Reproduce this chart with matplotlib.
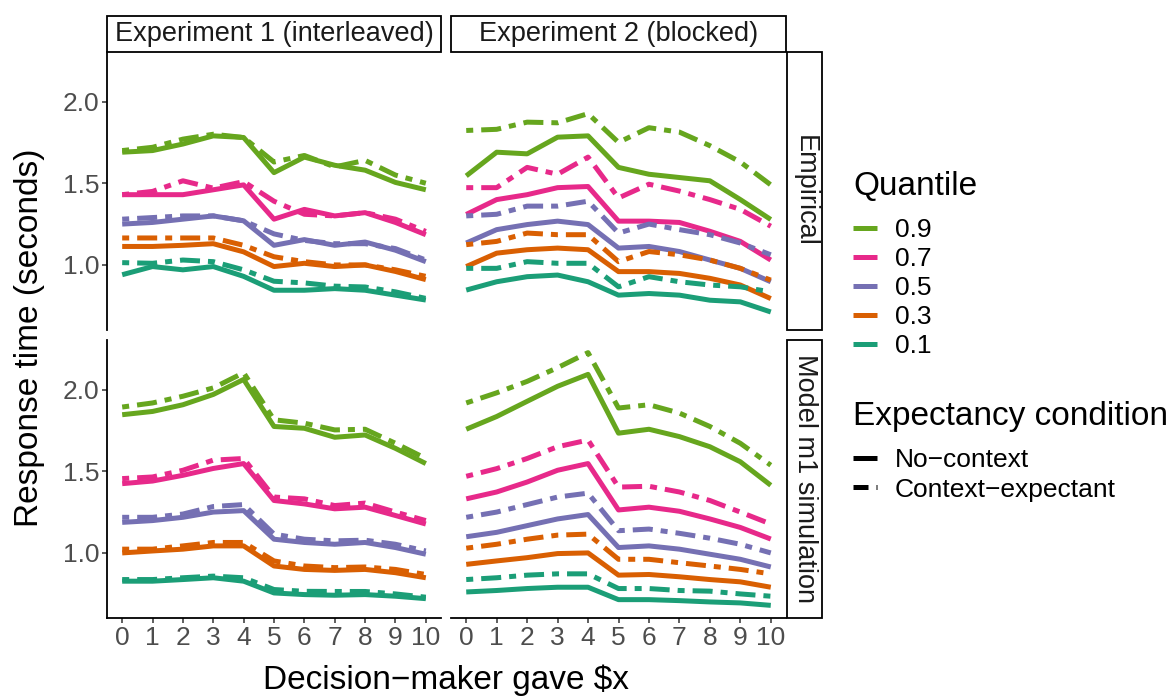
import numpy as np
import matplotlib
matplotlib.use("Agg")
import matplotlib.pyplot as plt
from matplotlib.lines import Line2D
from matplotlib.patches import Rectangle

plt.rcParams["font.family"] = ["Liberation Sans", "DejaVu Sans"]

# ---- data -------------------------------------------------------------
amounts = list(range(11))
quantiles = ["0.9", "0.7", "0.5", "0.3", "0.1"]
quantile_colors = ["#66A61E", "#E7298A", "#7570B3", "#D95F02", "#1B9E77"]
experiments = ["Experiment 1 (interleaved)", "Experiment 2 (blocked)"]
sources = ["Empirical", "Model m1 simulation"]
conditions = ["No\u2212context", "Context\u2212expectant"]

# rows follow `quantiles` order (0.9 ... 0.1)
emp_exp1_nocontext = [
    [1.69, 1.70, 1.74, 1.79, 1.78, 1.565, 1.66, 1.61, 1.58, 1.505, 1.46],
    [1.43, 1.43, 1.43, 1.46, 1.49, 1.28, 1.34, 1.30, 1.32, 1.26, 1.185],
    [1.25, 1.26, 1.28, 1.30, 1.27, 1.12, 1.155, 1.12, 1.14, 1.09, 1.02],
    [1.113, 1.113, 1.12, 1.13, 1.08, 0.99, 1.01, 0.99, 1.00, 0.96, 0.91],
    [0.94, 0.99, 0.97, 0.99, 0.93, 0.845, 0.845, 0.855, 0.845, 0.815, 0.785],
]
emp_exp1_context = [
    [1.70, 1.72, 1.77, 1.80, 1.78, 1.63, 1.67, 1.60, 1.64, 1.55, 1.50],
    [1.43, 1.45, 1.515, 1.47, 1.51, 1.39, 1.31, 1.30, 1.32, 1.28, 1.205],
    [1.28, 1.29, 1.30, 1.30, 1.27, 1.19, 1.15, 1.13, 1.13, 1.10, 1.03],
    [1.165, 1.165, 1.165, 1.165, 1.12, 1.05, 1.02, 1.00, 1.00, 0.97, 0.93],
    [1.014, 1.01, 1.03, 1.02, 0.97, 0.90, 0.89, 0.87, 0.865, 0.835, 0.795],
]
emp_exp2_nocontext = [
    [1.545, 1.69, 1.68, 1.782, 1.79, 1.597, 1.555, 1.535, 1.515, 1.40, 1.278],
    [1.309, 1.40, 1.43, 1.473, 1.48, 1.268, 1.268, 1.26, 1.206, 1.144, 1.03],
    [1.134, 1.216, 1.247, 1.268, 1.247, 1.103, 1.113, 1.082, 1.03, 0.979, 0.897],
    [0.99, 1.072, 1.093, 1.103, 1.093, 0.959, 0.959, 0.948, 0.918, 0.877, 0.794],
    [0.846, 0.897, 0.928, 0.938, 0.897, 0.815, 0.825, 0.815, 0.784, 0.774, 0.712],
]
emp_exp2_context = [
    [1.823, 1.83, 1.874, 1.87, 1.926, 1.75, 1.84, 1.813, 1.73, 1.63, 1.49],
    [1.473, 1.473, 1.597, 1.555, 1.66, 1.41, 1.494, 1.452, 1.40, 1.34, 1.237],
    [1.30, 1.31, 1.36, 1.36, 1.39, 1.195, 1.25, 1.216, 1.185, 1.134, 1.062],
    [1.124, 1.144, 1.195, 1.185, 1.185, 1.02, 1.082, 1.062, 1.03, 0.979, 0.907],
    [0.979, 0.979, 1.02, 1.01, 1.01, 0.866, 0.928, 0.897, 0.877, 0.866, 0.835],
]
sim_exp1_nocontext = [
    [1.846, 1.866, 1.907, 1.97, 2.062, 1.774, 1.763, 1.708, 1.722, 1.64, 1.547],
    [1.424, 1.44, 1.475, 1.517, 1.547, 1.321, 1.30, 1.27, 1.28, 1.229, 1.177],
    [1.187, 1.198, 1.218, 1.25, 1.259, 1.084, 1.064, 1.053, 1.064, 1.033, 0.992],
    [1.00, 1.012, 1.023, 1.043, 1.043, 0.92, 0.899, 0.893, 0.899, 0.879, 0.848],
    [0.827, 0.827, 0.837, 0.848, 0.827, 0.755, 0.745, 0.741, 0.745, 0.735, 0.72],
]
sim_exp1_context = [
    [1.893, 1.918, 1.959, 2.01, 2.103, 1.815, 1.794, 1.753, 1.757, 1.671, 1.578],
    [1.455, 1.465, 1.506, 1.568, 1.578, 1.342, 1.331, 1.29, 1.305, 1.25, 1.198],
    [1.218, 1.218, 1.238, 1.284, 1.296, 1.115, 1.084, 1.074, 1.078, 1.053, 1.012],
    [1.023, 1.023, 1.043, 1.064, 1.064, 0.951, 0.92, 0.91, 0.914, 0.899, 0.868],
    [0.837, 0.837, 0.848, 0.858, 0.848, 0.776, 0.765, 0.764, 0.764, 0.749, 0.729],
]
sim_exp2_nocontext = [
    [1.757, 1.835, 1.928, 2.02, 2.093, 1.733, 1.757, 1.712, 1.65, 1.558, 1.414],
    [1.331, 1.373, 1.434, 1.506, 1.547, 1.263, 1.28, 1.255, 1.208, 1.156, 1.085],
    [1.099, 1.126, 1.167, 1.208, 1.235, 1.033, 1.043, 1.023, 0.992, 0.961, 0.914],
    [0.93, 0.951, 0.971, 0.996, 1.00, 0.864, 0.868, 0.854, 0.837, 0.823, 0.79],
    [0.761, 0.77, 0.782, 0.79, 0.79, 0.714, 0.714, 0.708, 0.70, 0.694, 0.679],
]
sim_exp2_context = [
    [1.918, 1.98, 2.05, 2.134, 2.226, 1.887, 1.907, 1.856, 1.774, 1.671, 1.537],
    [1.469, 1.516, 1.578, 1.65, 1.691, 1.403, 1.408, 1.373, 1.321, 1.25, 1.177],
    [1.218, 1.25, 1.296, 1.342, 1.366, 1.136, 1.146, 1.12, 1.09, 1.053, 1.00],
    [1.029, 1.053, 1.084, 1.109, 1.115, 0.961, 0.961, 0.94, 0.92, 0.899, 0.872],
    [0.837, 0.848, 0.864, 0.872, 0.872, 0.782, 0.782, 0.77, 0.766, 0.749, 0.735],
]

panels = {
    (0, 0): (emp_exp1_nocontext, emp_exp1_context),
    (0, 1): (emp_exp2_nocontext, emp_exp2_context),
    (1, 0): (sim_exp1_nocontext, sim_exp1_context),
    (1, 1): (sim_exp2_nocontext, sim_exp2_context),
}

# ---- layout (pixels) --------------------------------------------------
W, H = 1172, 700
fig = plt.figure(figsize=(W / 100, H / 100), dpi=100)

col_x = [(107, 441), (451, 786)]
row_y = [(52, 330), (340, 618)]
strip_top = (16, 52)
strip_right = (787, 822)


def rect(x0, x1, y0, y1):
    return [x0 / W, 1 - y1 / H, (x1 - x0) / W, (y1 - y0) / H]


def fy(y):
    return 1 - y / H


LW = 3.6
DOTDASH = (1.4, 1.6, 4.0, 1.6)
TICK_COLOR = "#333333"
TICKLABEL_COLOR = "#4D4D4D"
TEXT_COLOR = "#1A1A1A"

all_vals = np.concatenate([np.ravel(a) for pair in panels.values() for a in pair])
span = all_vals.max() - all_vals.min()
ylim = (all_vals.min() - 0.05 * span, all_vals.max() + 0.05 * span)
xlim = (-0.5, 10.5)

for (r, c), (nocontext, context) in panels.items():
    ax = fig.add_axes(rect(*col_x[c], *row_y[r]))
    for qi in range(len(quantiles)):
        color = quantile_colors[qi]
        ax.plot(amounts, nocontext[qi], color=color, lw=LW,
                solid_capstyle="butt", solid_joinstyle="round")
        ax.plot(amounts, context[qi], color=color, lw=LW,
                dashes=DOTDASH, dash_capstyle="butt", dash_joinstyle="round")
    ax.set_xlim(*xlim)
    ax.set_ylim(*ylim)
    ax.set_facecolor("none")
    for s in ["top", "right"]:
        ax.spines[s].set_visible(False)
    ax.spines["left"].set_visible(c == 0)
    ax.spines["bottom"].set_visible(r == 1)
    for s in ["left", "bottom"]:
        ax.spines[s].set_linewidth(1.3)
        ax.spines[s].set_color("black")
    ax.set_yticks([1.0, 1.5, 2.0])
    ax.set_xticks(amounts)
    ax.tick_params(axis="both", length=3.5, width=1.1, color=TICK_COLOR,
                   labelcolor=TICKLABEL_COLOR, labelsize=19, pad=2)
    if c != 0:
        ax.tick_params(axis="y", left=False, labelleft=False)
    if r != 1:
        ax.tick_params(axis="x", bottom=False, labelbottom=False)
    if r == 1:
        ax.set_xticklabels([str(a) for a in amounts])
    if c == 0:
        ax.set_yticklabels(["1.0", "1.5", "2.0"])

# facet strips
for c, label in enumerate(experiments):
    sax = fig.add_axes(rect(*col_x[c], *strip_top))
    sax.set_axis_off()
    sax.add_patch(Rectangle((0, 0), 1, 1, transform=sax.transAxes,
                            facecolor="white", edgecolor="black", lw=1.3,
                            clip_on=False))
    sax.text(0.5, 0.5, label, ha="center", va="center", fontsize=19.5,
             color=TEXT_COLOR, transform=sax.transAxes)

for r, label in enumerate(sources):
    sax = fig.add_axes(rect(*strip_right, *row_y[r]))
    sax.set_axis_off()
    sax.add_patch(Rectangle((0, 0), 1, 1, transform=sax.transAxes,
                            facecolor="white", edgecolor="black", lw=1.3,
                            clip_on=False))
    sax.text(0.5, 0.5, label, ha="center", va="center", fontsize=19.5,
             rotation=-90, color=TEXT_COLOR, transform=sax.transAxes)

# axis titles
fig.text(446 / W, fy(680), "Decision\u2212maker gave $x", ha="center",
         va="center", fontsize=24)
fig.text(30 / W, fy(338), "Response time (seconds)", ha="center",
         va="center", rotation=90, fontsize=24)

# legends (titles placed separately so the gap below them can be set)
LEG_FS = 19
legend_kw = dict(loc="center left", frameon=False, fontsize=LEG_FS,
                 handlelength=0.91, handletextpad=0.68, labelspacing=0.19,
                 borderpad=0, borderaxespad=0)

fig.text(853 / W, fy(195), "Quantile", ha="left", va="baseline", fontsize=24)
q_handles = [Line2D([], [], color=col, lw=LW, solid_capstyle="butt")
             for col in quantile_colors]
fig.legend(q_handles, quantiles, bbox_to_anchor=(853 / W, fy(288)),
           **legend_kw)

fig.text(853 / W, fy(425), "Expectancy condition", ha="left",
         va="baseline", fontsize=24)
c_handles = [Line2D([], [], color="black", lw=LW, solid_capstyle="butt"),
             Line2D([], [], color="black", lw=LW, dashes=(3.0, 1.6, 1.0, 1.6),
                    dash_capstyle="butt")]
fig.legend(c_handles, conditions, bbox_to_anchor=(853 / W, fy(475)),
           **legend_kw)

fig.savefig("out.png", dpi=100, facecolor="white")
